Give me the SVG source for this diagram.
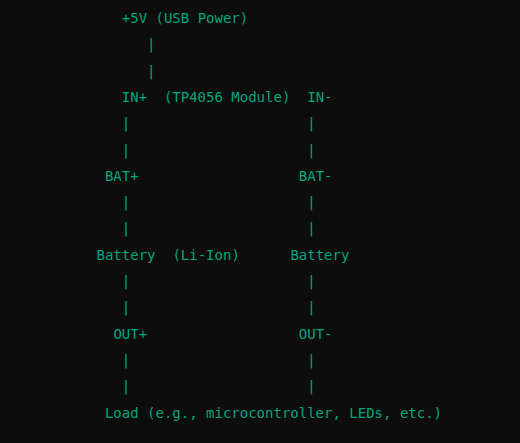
<svg xmlns="http://www.w3.org/2000/svg" width="520" height="443" viewBox="0 0 520 443">
<style>
text{font-family:"DejaVu Sans Mono","Liberation Mono",monospace;font-size:14px;fill:#00a67d}
</style>
<rect width="520" height="443" fill="#0d0d0d"/>
<g transform="translate(1.5,0)">
<g id="usb"><text x="120.3" y="23">+5V (USB Power)</text></g>
<g id="tp4056"><text x="120.3" y="101.9">IN+</text><text x="162.4" y="101.9">(TP4056 Module)</text><text x="305.8" y="101.9">IN-</text></g>
<g id="batp"><text x="103.4" y="180.8">BAT+</text></g>
<g id="batn"><text x="297.3" y="180.8">BAT-</text></g>
<g id="battery"><text x="95" y="259.7">Battery</text><text x="170.9" y="259.7">(Li-Ion)</text><text x="288.9" y="259.7">Battery</text></g>
<g id="outp"><text x="111.9" y="338.6">OUT+</text></g>
<g id="outn"><text x="297.3" y="338.6">OUT-</text></g>
<g id="load"><text x="103.4" y="417.5">Load (e.g., microcontroller, LEDs, etc.)</text></g>
<g id="connectors">
<text x="145.6" y="49.3">|</text><text x="145.6" y="75.6">|</text>
<text x="120.3" y="128.2">|</text><text x="120.3" y="154.5">|</text>
<text x="305.8" y="128.2">|</text><text x="305.8" y="154.5">|</text>
<text x="120.3" y="207.1">|</text><text x="120.3" y="233.4">|</text>
<text x="305.8" y="207.1">|</text><text x="305.8" y="233.4">|</text>
<text x="120.3" y="286">|</text><text x="120.3" y="312.3">|</text>
<text x="305.8" y="286">|</text><text x="305.8" y="312.3">|</text>
<text x="120.3" y="364.9">|</text><text x="120.3" y="391.2">|</text>
<text x="305.8" y="364.9">|</text><text x="305.8" y="391.2">|</text>
</g>
</g>
</svg>
